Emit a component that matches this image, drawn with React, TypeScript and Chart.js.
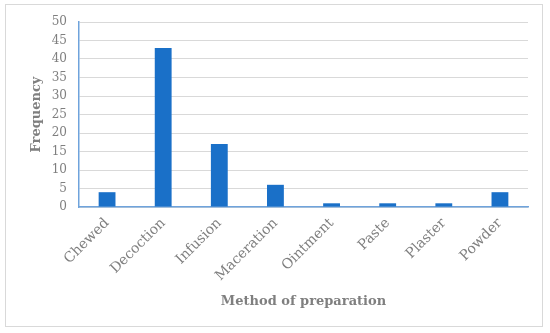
import React, { useEffect, useRef } from "react";
import { Chart, registerables } from "chart.js";

Chart.register(...registerables);

const categories = ["Chewed", "Decoction", "Infusion", "Maceration", "Ointment", "Paste", "Plaster", "Powder"];
const frequency = [4, 43, 17, 6, 1, 1, 1, 4];
const yTitle = "Frequency";
const xTitle = "Method of preparation";

export default function App() {
  const ref = useRef<HTMLCanvasElement | null>(null);
  useEffect(() => {
    if (!ref.current) return;
    const grey = "#7f7f7f";
    const chart = new Chart(ref.current, {
      type: "bar",
      data: {
        labels: categories,
        datasets: [
          {
            data: frequency,
            backgroundColor: "#1a70c8",
            barPercentage: 0.3,
            categoryPercentage: 1,
          },
        ],
      },
      options: {
        animation: false,
        responsive: false,
        maintainAspectRatio: false,
        layout: { padding: { left: 0, top: 22, right: 22, bottom: 0 } },
        plugins: { legend: { display: false }, tooltip: { enabled: false } },
        scales: {
          x: {
            grid: { display: false, drawTicks: false },
            border: { color: "#6fa3dc", width: 1.5 },
            ticks: {
              color: grey,
              font: { family: "DejaVu Serif", size: 14 },
              minRotation: 45,
              maxRotation: 45,
              padding: 8,
            },
            title: {
              display: true,
              text: xTitle,
              color: grey,
              font: { family: "DejaVu Serif", size: 13, weight: "bold" },
              padding: { top: 0, bottom: 24 },
            },
            afterFit: (s: any) => {
              s.height = 333 - 207;
            },
          },
          y: {
            min: 0,
            max: 50,
            ticks: {
              stepSize: 5,
              color: grey,
              font: { family: "DejaVu Serif", size: 12 },
              padding: 12,
            },
            grid: { color: "#d9d9d9", drawTicks: false },
            border: { color: "#6fa3dc", width: 1.5 },
            title: {
              display: true,
              text: yTitle,
              color: grey,
              font: { family: "DejaVu Serif", size: 13, weight: "bold" },
              padding: { top: 29, bottom: 0 },
            },
            afterFit: (s: any) => {
              s.width = 79;
            },
          },
        },
      },
    });
    return () => chart.destroy();
  }, []);
  return (
    <div style={{ position: "fixed", left: 0, top: 0, width: 550, height: 333, background: "#fff" }}>
      <div
        style={{
          position: "absolute",
          left: 5,
          top: 4,
          width: 538,
          height: 323,
          border: "1px solid #d9d9d9",
          boxSizing: "border-box",
        }}
      />
      <canvas ref={ref} width={550} height={333} style={{ position: "absolute", left: 0, top: 0 }} />
    </div>
  );
}
